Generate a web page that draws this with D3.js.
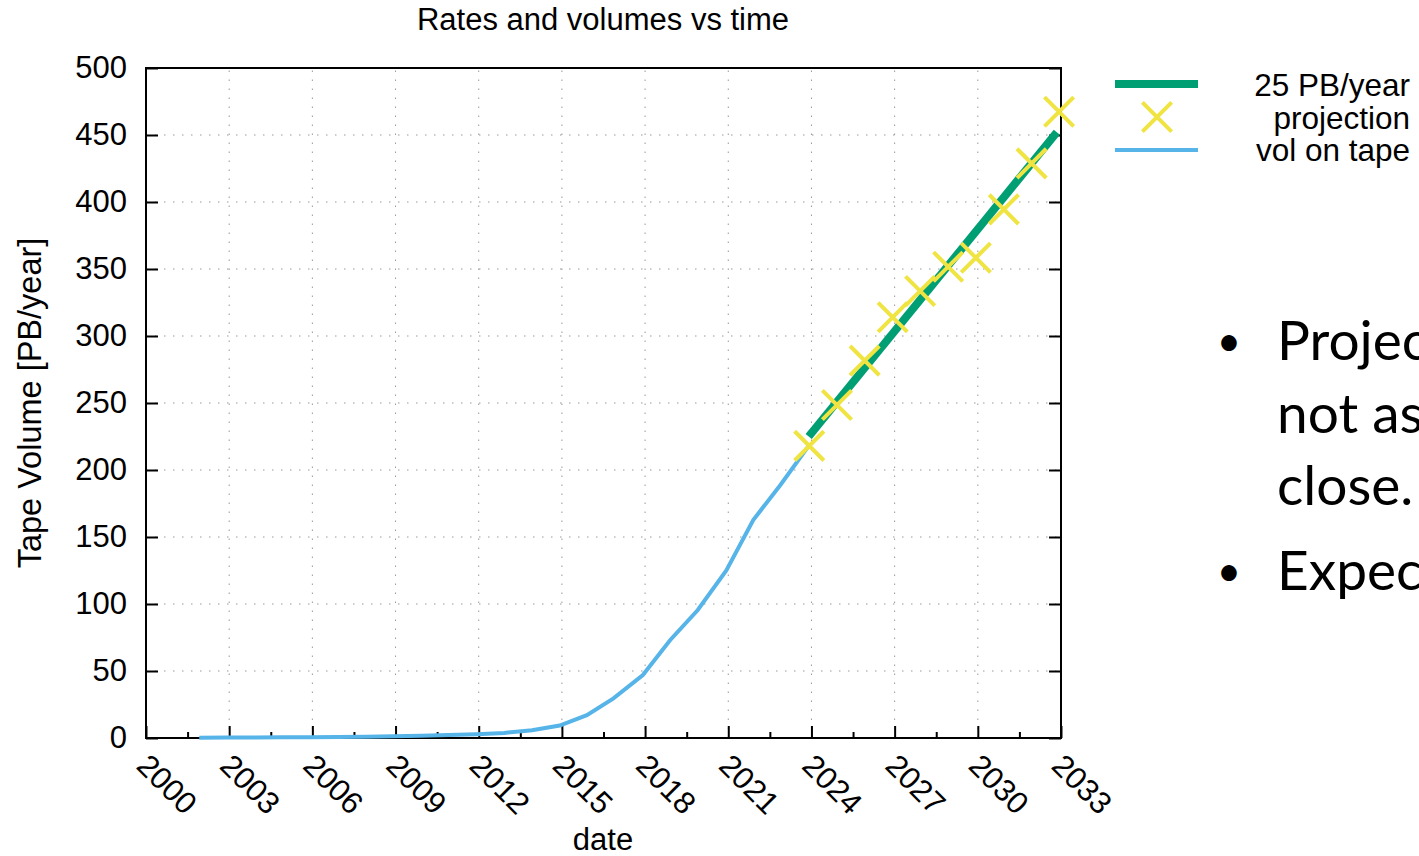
<!DOCTYPE html>
<html><head><meta charset="utf-8">
<script src="https://cdn.jsdelivr.net/npm/d3@7"></script>
<style>body{margin:0;background:#fff} svg{display:block}</style>
</head><body><svg id="c" width="1419" height="856"></svg>
<script>
// ---- data ----
const volYears  = [2001.92,2002.92,2003.92,2004.92,2005.92,2006.92,2007.92,2008.92,2009.92,2010.92,2011.92,2012.92,2013.92,2014.92,2015.9,2016.86,2017.92,2018.9,2019.9,2020.93,2021.9,2022.88,2023.9];
const volValues = [0.2,0.3,0.4,0.5,0.6,0.8,1.0,1.3,1.7,2.2,2.8,3.8,5.8,9.3,17,29.6,47,73,95.5,125,162.7,188.8,218];
const projYears  = [2023.92,2024.92,2025.92,2026.93,2027.92,2028.93,2029.93,2030.94,2031.94,2032.93];
const projValues = [218,248.5,281.6,314,333.6,351.7,358.4,394.5,428.8,467.4];
const rateYears  = [2023.9, 2032.85];
const rateValues = [225, 452];
const xTickValues = d3.range(2000, 2034, 3);
const xMinorValues = d3.range(2001.5, 2033, 3);
const yTickValues = d3.range(0, 501, 50);
const legendLabels = ["25 PB/year", "projection", "vol on tape"];
const bulletLines = [["•","Projec"],["","not as"],["","close."],["•","Expec"]];

const W = 1419, H = 856;
const m = {left:146, top:68, right:1061, bottom:738};
const svg = d3.select("#c");
const font = "'Liberation Sans', Arial, Helvetica, sans-serif";
const x = d3.scaleLinear().domain([2000, 2033]).range([m.left, m.right]);
const y = d3.scaleLinear().domain([0, 500]).range([m.bottom, m.top]);
const blue = "#56b4e9", green = "#009e73", yellow = "#f0e442";

// grid
const grid = svg.append("g").attr("stroke", "#999").attr("stroke-width", 1).attr("stroke-dasharray", "1.5,7.5");
grid.selectAll("line.v").data(xTickValues.filter(d => d > 2000 && d < 2033)).join("line")
  .attr("x1", d => x(d)).attr("x2", d => x(d)).attr("y1", m.bottom).attr("y2", m.top);
grid.selectAll("line.h").data(yTickValues.filter(d => d > 0 && d < 500)).join("line")
  .attr("x1", m.left).attr("x2", m.right).attr("y1", d => y(d)).attr("y2", d => y(d));

// axes
const gx = svg.append("g").attr("transform", `translate(0,${m.bottom})`)
  .call(d3.axisBottom(x).tickValues(xTickValues).tickSizeInner(-12).tickSizeOuter(0).tickFormat(d3.format("d")));
gx.select(".domain").remove();
gx.selectAll(".tick line").attr("stroke", "#000").attr("stroke-width", 2);
gx.selectAll(".tick text")
  .attr("font-family", font).attr("font-size", 31).attr("fill", "#000")
  .attr("text-anchor", "start").attr("dominant-baseline", "central")
  .attr("x", 0).attr("y", 0).attr("dy", null)
  .attr("transform", "translate(-4,22) rotate(45)");
const gxm = svg.append("g").attr("transform", `translate(0,${m.bottom})`)
  .call(d3.axisBottom(x).tickValues(xMinorValues).tickSizeInner(-6).tickSizeOuter(0).tickFormat(""));
gxm.select(".domain").remove();
gxm.selectAll(".tick line").attr("stroke", "#000").attr("stroke-width", 2);

const gy = svg.append("g").attr("transform", `translate(${m.left},0)`)
  .call(d3.axisLeft(y).tickValues(yTickValues).tickSizeInner(-12).tickSizeOuter(0).tickPadding(19));
gy.select(".domain").remove();
gy.selectAll(".tick line").attr("stroke", "#000").attr("stroke-width", 2);
gy.selectAll(".tick text").attr("font-family", font).attr("font-size", 31).attr("fill", "#000");
const gyr = svg.append("g").attr("transform", `translate(${m.right},0)`)
  .call(d3.axisRight(y).tickValues(yTickValues).tickSizeInner(-12).tickSizeOuter(0).tickFormat(""));
gyr.select(".domain").remove();
gyr.selectAll(".tick line").attr("stroke", "#000").attr("stroke-width", 2);

svg.append("rect").attr("x", m.left).attr("y", m.top).attr("width", m.right - m.left).attr("height", m.bottom - m.top)
  .attr("fill", "none").attr("stroke", "#000").attr("stroke-width", 2);

// data
const vol = volYears.map((d, i) => [d, volValues[i]]);
svg.append("path").datum(vol).attr("fill", "none").attr("stroke", blue).attr("stroke-width", 4)
  .attr("d", d3.line().x(d => x(d[0])).y(d => y(d[1])));
const rate = rateYears.map((d, i) => [d, rateValues[i]]);
svg.append("path").datum(rate).attr("fill", "none").attr("stroke", green).attr("stroke-width", 8)
  .attr("d", d3.line().x(d => x(d[0])).y(d => y(d[1])));
const xMark = d3.symbol().type(d3.symbolX).size(560);
svg.append("g").selectAll("path").data(projYears.map((d, i) => [d, projValues[i]])).join("path")
  .attr("transform", d => `translate(${x(d[0])},${y(d[1])})`)
  .attr("d", xMark).attr("fill", "none").attr("stroke", yellow).attr("stroke-width", 4);

// titles
svg.append("text").attr("x", 603).attr("y", 30).attr("text-anchor", "middle")
  .attr("font-family", font).attr("font-size", 31).text("Rates and volumes vs time");
svg.append("text").attr("transform", "translate(41,403) rotate(-90)").attr("text-anchor", "middle")
  .attr("font-family", font).attr("font-size", 32.5).text("Tape Volume [PB/year]");
svg.append("text").attr("x", 603).attr("y", 850).attr("text-anchor", "middle")
  .attr("font-family", font).attr("font-size", 31).text("date");

// legend
const lg = svg.append("g");
const rowBase = [96, 128.5, 161];
legendLabels.forEach((t, i) => {
  lg.append("text").attr("x", 1410).attr("y", rowBase[i]).attr("text-anchor", "end")
    .attr("font-family", font).attr("font-size", 31.5).text(t);
});
lg.append("line").attr("x1", 1115).attr("x2", 1198).attr("y1", 84).attr("y2", 84).attr("stroke", green).attr("stroke-width", 8);
lg.append("path").attr("transform", "translate(1157,117)").attr("d", xMark).attr("fill", "none").attr("stroke", yellow).attr("stroke-width", 4);
lg.append("line").attr("x1", 1115).attr("x2", 1198).attr("y1", 150).attr("y2", 150).attr("stroke", blue).attr("stroke-width", 4);

// side text
const bBase = [360, 433, 505, 590];
bulletLines.forEach((l, i) => {
  if (l[0]) svg.append("text").attr("x", 1229).attr("y", bBase[i] - 4).attr("text-anchor", "middle")
    .attr("font-family", "Lato, 'Open Sans', sans-serif").attr("font-size", 42).text(l[0]);
  svg.append("text").attr("x", 1277).attr("y", bBase[i]).attr("font-family", "Lato, 'Open Sans', sans-serif").attr("font-size", 55).text(l[1]);
});
</script></body></html>
